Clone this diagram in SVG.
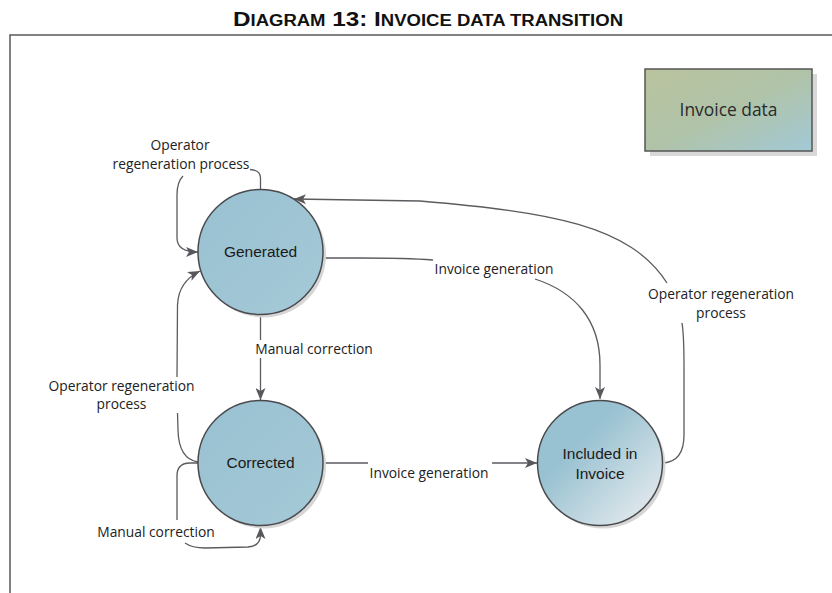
<svg xmlns="http://www.w3.org/2000/svg" width="832" height="593" viewBox="0 0 832 593">
<style>
.frame{fill:none;stroke:#5a5a5a;stroke-width:1.5}
.conn{fill:none;stroke:#5b5b60;stroke-width:1.3}
.lbl{font-family:"Open Sans","Liberation Sans",sans-serif;font-size:13.8px;fill:#222;text-anchor:middle}
.node{stroke:#4a4a4e;stroke-width:1.5}
.shadow{fill:#d6d6d6}
.ntext{font-family:"Liberation Sans",Arial,sans-serif;font-size:15.5px;fill:#1a1a1a;text-anchor:middle}
.title{font-family:"Liberation Sans",Arial,sans-serif;font-weight:bold;fill:#111;text-anchor:middle}
</style>
<defs>
<marker id="arr" markerUnits="userSpaceOnUse" viewBox="0 0 12 10" refX="12" refY="5" markerWidth="12" markerHeight="10" orient="auto">
<path d="M0,0 L12,5 L0,10 L3,5 z" fill="#58585c"/>
</marker>
<linearGradient id="gBlue" x1="0" y1="0" x2="1" y2="1">
<stop offset="0" stop-color="#98c1d1"/>
<stop offset="1" stop-color="#a5c9d7"/>
</linearGradient>
<linearGradient id="gInc" x1="0.15" y1="0.15" x2="0.9" y2="0.9">
<stop offset="0.25" stop-color="#98c1d1"/>
<stop offset="1" stop-color="#e2e9ed"/>
</linearGradient>
<linearGradient id="gBox" x1="0" y1="0" x2="1" y2="1">
<stop offset="0" stop-color="#b9c39e"/>
<stop offset="0.5" stop-color="#b0c3a8"/>
<stop offset="1" stop-color="#a2c9d6"/>
</linearGradient>
</defs>
<rect width="832" height="593" fill="#ffffff"/>
<text class="title" x="428" y="26" textLength="390" lengthAdjust="spacingAndGlyphs"><tspan font-size="21">D</tspan><tspan font-size="16">IAGRAM</tspan><tspan font-size="21"> 13: I</tspan><tspan font-size="16">NVOICE DATA TRANSITION</tspan></text>
<path class="frame" d="M10,593 L10,35 L832,35"/>
<g id="connectors">
<path class="conn" d="M260.5,189 L260.5,178 Q260.5,170 250,169.5"/>
<path class="conn" d="M183,176 Q177,182 177,195 L177,238 Q177,252 198,252" marker-end="url(#arr)"/>
<path class="conn" d="M198,462 C185,460 178.5,450 178,430 L177.5,413"/>
<path class="conn" d="M177,377 L177.5,305 C178,290 186,278 200,271" marker-end="url(#arr)"/>
<path class="conn" d="M198,463 L190,463 Q177,463 177,476 L177,520"/>
<path class="conn" d="M185,543 Q192,548 205,548 L248,547 Q260.5,546 260.5,535 L260.5,527" marker-end="url(#arr)"/>
<path class="conn" d="M260.5,315 L260.5,340"/>
<path class="conn" d="M260.5,358 L260.5,400" marker-end="url(#arr)"/>
<path class="conn" d="M323,258 L360,258 C400,258 420,259 433,260"/>
<path class="conn" d="M535,279 C575,292 600,320 600,365 L600,399" marker-end="url(#arr)"/>
<path class="conn" d="M323,463 L368,463"/>
<path class="conn" d="M492,463 L537,463" marker-end="url(#arr)"/>
<path class="conn" d="M663,463 C678,462 684,452 684,435 L684,367 Q684,335 682,323"/>
<path class="conn" d="M667,283 C630,225 550,212 420,201 L294,199" marker-end="url(#arr)"/>
<text class="lbl" x="180" y="150">Operator</text>
<text class="lbl" x="181" y="169">regeneration process</text>
<text class="lbl" x="121.5" y="390.5">Operator regeneration</text>
<text class="lbl" x="121.5" y="408.5">process</text>
<text class="lbl" x="156" y="537">Manual correction</text>
<text class="lbl" x="314" y="354">Manual correction</text>
<text class="lbl" x="494" y="273.5">Invoice generation</text>
<text class="lbl" x="429" y="477.5">Invoice generation</text>
<text class="lbl" x="721" y="299">Operator regeneration</text>
<text class="lbl" x="721" y="318">process</text>
</g>
<g id="invoice-data">
<rect x="650" y="74" width="167" height="82" fill="#d8d8d8"/>
<rect x="645" y="69" width="167" height="82" fill="url(#gBox)" stroke="#555" stroke-width="1.5"/>
<text x="728.5" y="116" font-family="'Open Sans','Liberation Sans',sans-serif" font-size="17.4" fill="#2a2a2a" text-anchor="middle">Invoice data</text>
</g>
<g id="generated">
<circle class="shadow" cx="263.5" cy="255" r="62.5"/>
<circle class="node" cx="260.5" cy="252" r="62.5" fill="url(#gBlue)"/>
<text class="ntext" x="260.5" y="257">Generated</text>
</g>
<g id="corrected">
<circle class="shadow" cx="263.5" cy="466" r="62.5"/>
<circle class="node" cx="260.5" cy="463" r="62.5" fill="url(#gBlue)"/>
<text class="ntext" x="260.5" y="468">Corrected</text>
</g>
<g id="included">
<circle class="shadow" cx="603" cy="466" r="62.5"/>
<circle class="node" cx="600" cy="463" r="62.5" fill="url(#gInc)"/>
<text class="ntext" x="600" y="459">Included in</text>
<text class="ntext" x="600" y="479">Invoice</text>
</g>
</svg>
